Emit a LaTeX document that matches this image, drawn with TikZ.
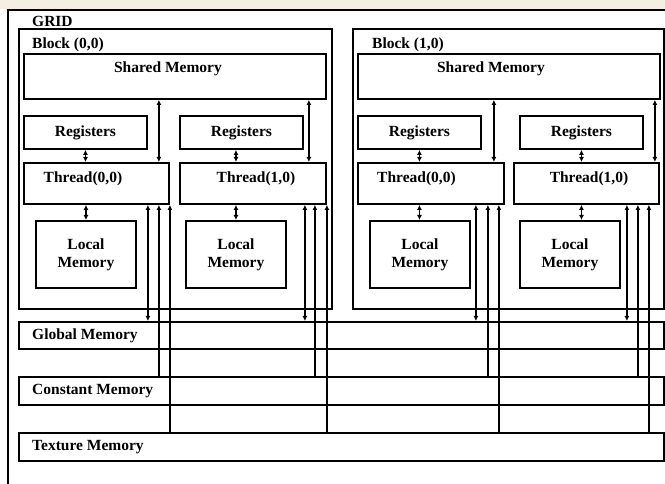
\documentclass[tikz,border=0pt]{standalone}
\usepackage{fontspec}
\setmainfont{Liberation Serif}
\usetikzlibrary{arrows.meta, positioning, calc}

\definecolor{wmark}{RGB}{246,238,226}

\begin{document}
\begin{tikzpicture}[
  x=1pt, y=-1pt,
  box/.style  = {draw, line width=1.9pt, anchor=north west, inner sep=0pt, align=center,
                 font=\bfseries\fontsize{15.5}{18}\selectfont},
  txt/.style  = {inner sep=0pt, font=\bfseries\fontsize{15.5}{18}\selectfont},
  dbl/.style  = {line width=1.9pt, {Latex[length=5pt,width=5pt]}-{Latex[length=5pt,width=5pt]}},
  upar/.style = {line width=1.9pt, {Latex[length=5pt,width=5pt]}-}
]
\useasboundingbox (0,0) rectangle (665,484);
\fill[wmark] (0,0) rectangle (665,9);

% Grid frame (runs off the page right and below)
\node[box, minimum width=690, minimum height=500] (grid) at (7,9) {};
\node[txt, anchor=base west] (gridtxt) at (32,27) {GRID};

% Block (0,0)
\node[box, minimum width=313, minimum height=280] (blk0) at (18,28) {};
\node[txt, anchor=base west] (blk0txt) at (32,49) {Block (0,0)};
\node[box, minimum width=302, minimum height=45] (sm0) at (23,53) {};
\node[txt] (sm0txt) at (168,69) {Shared Memory};
\node[box, minimum width=123, minimum height=33] (r00) at (23,115) {Registers};
\node[box, minimum width=123, minimum height=33] (r01) at (179,115) {Registers};
\node[box, minimum width=145, minimum height=41] (t00) at (23,162) {};
\node[box, minimum width=146, minimum height=41] (t01) at (179,162) {};
\node[txt] (t00txt) at (83,178.5) {Thread(0,0)};
\node[txt] (t01txt) at (256,178.5) {Thread(1,0)};
\node[box, minimum width=100, minimum height=67] (lm00) at (35,220) {Local\\Memory};
\node[box, minimum width=100, minimum height=67] (lm01) at (185,220) {Local\\Memory};

% Block (1,0)
\node[box, minimum width=311, minimum height=280] (blk1) at (352,28) {};
\node[txt, anchor=base west] (blk1txt) at (372,49) {Block (1,0)};
\node[box, minimum width=302, minimum height=45] (sm1) at (357,53) {};
\node[txt] (sm1txt) at (491,69) {Shared Memory};
\node[box, minimum width=123, minimum height=33] (r10) at (357,115) {Registers};
\node[box, minimum width=123, minimum height=33] (r11) at (519,115) {Registers};
\node[box, minimum width=146, minimum height=41] (t10) at (357,162) {};
\node[box, minimum width=145, minimum height=41] (t11) at (513,162) {};
\node[txt] (t10txt) at (416.5,178.5) {Thread(0,0)};
\node[txt] (t11txt) at (589,178.5) {Thread(1,0)};
\node[box, minimum width=100, minimum height=67] (lm10) at (369,220) {Local\\Memory};
\node[box, minimum width=100, minimum height=67] (lm11) at (519,220) {Local\\Memory};

% Device memories
\node[box, minimum width=645, minimum height=27] (glob) at (18,321) {};
\node[box, minimum width=645, minimum height=28] (cons) at (18,376) {};
\node[box, minimum width=645, minimum height=28] (tex) at (18,432) {};
\node[txt, anchor=west] (globtxt) at ([xshift=14]glob.west) {Global Memory};
\node[txt, anchor=west] (constxt) at ([xshift=14]cons.west) {Constant Memory};
\node[txt, anchor=west] (textxt) at ([xshift=14]tex.west) {Texture Memory};

% registers <-> thread <-> local memory
\draw[dbl] (r00.south) -- (r00.south |- t00.north);
\draw[dbl] (lm00.north |- t00.south) -- (lm00.north);
\draw[dbl] (lm01.north |- r01.south) -- (lm01.north |- t01.north);
\draw[dbl] (lm01.north |- t01.south) -- (lm01.north);
\draw[dbl] (r10.south) -- (r10.south |- t10.north);
\draw[dbl] (r10.south |- t10.south) -- (r10.south |- lm10.north);
\draw[dbl] (r11.south) -- (r11.south |- t11.north);
\draw[dbl] (r11.south |- t11.south) -- (r11.south |- lm11.north);

% shared memory <-> threads
\draw[dbl] ([xshift=-11]t00.north east |- sm0.south) -- ([xshift=-11]t00.north east);
\draw[dbl] ([xshift=-18]t01.north east |- sm0.south) -- ([xshift=-18]t01.north east);
\draw[dbl] ([xshift=-11]t10.north east |- sm1.south) -- ([xshift=-11]t10.north east);
\draw[dbl] ([xshift=-5]t11.north east |- sm1.south) -- ([xshift=-5]t11.north east);

% threads down to global, constant and texture memory
\draw[dbl]  ([xshift=-22]t00.south east) -- ([xshift=-22]t00.south east |- glob.north);
\draw[upar] ([xshift=-11]t00.south east) -- ([xshift=-11]t00.south east |- cons.north);
\draw[upar] (t00.south east) -- (t00.south east |- tex.north);

\draw[dbl]  ([xshift=-22]t01.south east) -- ([xshift=-22]t01.south east |- glob.north);
\draw[upar] ([xshift=-12]t01.south east) -- ([xshift=-12]t01.south east |- cons.north);
\draw[upar] (t01.south east) -- (t01.south east |- tex.north);

\draw[dbl]  ([xshift=-29]t10.south east) -- ([xshift=-29]t10.south east |- glob.north);
\draw[upar] ([xshift=-17]t10.south east) -- ([xshift=-17]t10.south east |- cons.north);
\draw[upar] ([xshift=-6]t10.south east) -- ([xshift=-6]t10.south east |- tex.north);

\draw[dbl]  ([xshift=-33]t11.south east) -- ([xshift=-33]t11.south east |- glob.north);
\draw[upar] ([xshift=-22]t11.south east) -- ([xshift=-22]t11.south east |- cons.north);
\draw[upar] ([xshift=-11]t11.south east) -- ([xshift=-11]t11.south east |- tex.north);

\end{tikzpicture}
\end{document}
